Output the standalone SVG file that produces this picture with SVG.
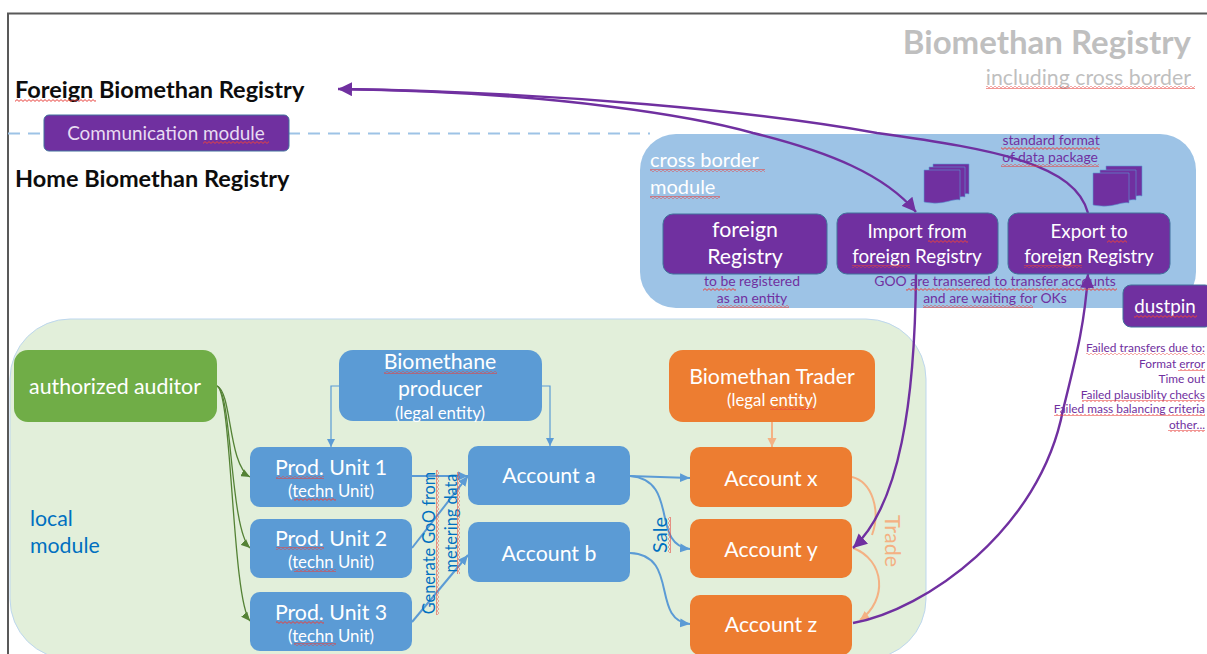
<svg xmlns="http://www.w3.org/2000/svg" width="1207" height="654" viewBox="0 0 1207 654">
<style>
text{font-family:Lato,"Open Sans","Liberation Sans",sans-serif}
.c{text-anchor:middle}
.w{fill:#fff}
.m{font-size:21.3px}
.s{font-size:16.8px}
.r{font-size:18.8px}
.p{fill:#7030a0;font-size:13.9px}
.f{fill:#7030a0;font-size:11.9px;text-anchor:end}
.blk{fill:#0d0d0d;font-size:23.5px;font-weight:700}
.blue{fill:#5b9bd5}
.or{fill:#ed7d31}
.pu{fill:#7030a0;stroke:#41719c;stroke-width:1}
.lk{fill:#0070c0}
.sq{fill:url(#wave)}
.sv{fill:url(#wavev)}
.cb{fill:none;stroke:#5b9bd5;stroke-width:2}
.cb1{fill:none;stroke:#5b9bd5;stroke-width:1.2}
.cg{fill:none;stroke:#548235;stroke-width:1.3}
.co{fill:none;stroke:#f4b183;stroke-width:2}
.cp{fill:none;stroke:#7030a0;stroke-width:2.4}
</style>
<defs>
<pattern id="wave" width="4" height="3" patternUnits="userSpaceOnUse"><path d="M0 1.5 L1 .6 L3 2.4 L4 1.5" fill="none" stroke="#e8413c" stroke-width="1"/></pattern>
<pattern id="wavev" width="3" height="4" patternUnits="userSpaceOnUse"><path d="M1.5 0 L.6 1 L2.4 3 L1.5 4" fill="none" stroke="#e8413c" stroke-width="1"/></pattern>
<marker id="ab" markerUnits="userSpaceOnUse" markerWidth="11" markerHeight="10" refX="10" refY="5" orient="auto"><path d="M0 0.5L10 5L0 9.500z" fill="#5b9bd5"/></marker>
<marker id="ab1" markerUnits="userSpaceOnUse" markerWidth="9" markerHeight="8" refX="8" refY="4" orient="auto"><path d="M0 0L8 4L0 8z" fill="#5b9bd5"/></marker>
<marker id="ag" markerUnits="userSpaceOnUse" markerWidth="10" markerHeight="8" refX="9" refY="4" orient="auto"><path d="M0 0L9 4L0 8z" fill="#548235"/></marker>
<marker id="ao" markerUnits="userSpaceOnUse" markerWidth="10" markerHeight="10" refX="9" refY="5" orient="auto"><path d="M0 .5L9 5L0 9.500z" fill="#f4b183"/></marker>
<marker id="ap" markerUnits="userSpaceOnUse" markerWidth="16" markerHeight="14" refX="14" refY="7" orient="auto"><path d="M0 0L14 7L0 14z" fill="#7030a0"/></marker>
<path id="doc" d="M0 0H36V30C28 28 20 36 0 32Z"/>
</defs>
<rect width="1207" height="654" fill="#fff"/>
<path d="M8 654V13.500H1207" fill="none" stroke="#595959" stroke-width="2"/>

<g id="titles">
<text x="1191" y="54" text-anchor="end" font-size="33" font-weight="700" fill="#bfbfbf">Biomethan Registry</text>
<text x="1191" y="85" text-anchor="end" font-size="21.300" fill="#bfbfbf">including cross border</text>
<rect class="sq" x="986" y="86" width="209" height="3"/>
<text class="blk" x="15" y="98">Foreign Biomethan Registry</text>
<rect class="sq" x="15" y="99" width="81" height="3"/>
<text class="blk" x="15" y="187">Home Biomethan Registry</text>
</g>
<path d="M8 133.500H650" fill="none" stroke="#9dc3e6" stroke-width="2" stroke-dasharray="12 8"/>

<g id="cross-border-module">
<rect x="640" y="134" width="556" height="174" rx="36" fill="#9dc3e6"/>
<text class="w" x="650" y="167" font-size="20">cross border</text>
<text class="w" x="650" y="194" font-size="20">module</text>
<rect class="sq" x="650" y="169" width="115" height="3"/>
<rect class="sq" x="650" y="196" width="70" height="3"/>
</g>
<g id="local-module">
<rect x="10" y="319" width="916" height="340" rx="60" fill="#e2efda" stroke="#bdd7ee"/>
<text class="lk m" x="30" y="526">local</text>
<text class="lk m" x="30" y="553">module</text>
</g>

<g id="connectors">
<path class="cg" d="M217 386C232 392 228 465 250 477" marker-end="url(#ag)"/>
<path class="cg" d="M217 386C232 392 230 530 250 548" marker-end="url(#ag)"/>
<path class="cg" d="M217 386C232 392 232 600 250 621" marker-end="url(#ag)"/>
<path class="cb1" d="M339 386H331V447" marker-end="url(#ab1)"/>
<path class="cb1" d="M542 386H550V446" marker-end="url(#ab1)"/>
<path class="cb" d="M412 476H468" marker-end="url(#ab)"/>
<path class="cb" d="M412 548L468 476" marker-end="url(#ab)"/>
<path class="cb" d="M412 622L468 555" marker-end="url(#ab)"/>
<path class="cb" d="M630 476L690 478" marker-end="url(#ab)"/>
<path class="cb" d="M630 476C680 480 650 545 690 549" marker-end="url(#ab)"/>
<path class="cb" d="M630 553C680 555 650 620 690 624" marker-end="url(#ab)"/>
<path class="co" d="M772 422V447" marker-end="url(#ao)"/>
<path class="co" d="M852 477C872 482 881 510 872 535"/>
<path class="co" d="M853 548C885 560 888 600 860 620" marker-end="url(#ao)"/>
<path class="cp" d="M916 274C915 400 900 505 853 548" marker-end="url(#ap)"/>
<path class="cp" d="M853 623C925 610 1040 530 1063 410C1078 350 1085 320 1088 274" marker-end="url(#ap)"/>
<path class="cp" d="M340 89C560 92 700 118 753 133C830 152 885 175 916 212" marker-end="url(#ap)"/>
<path class="cp" d="M1088 213C1075 165 1000 150 877 133C760 112 560 92 338 89" marker-end="url(#ap)"/>
</g>

<g id="communication-module">
<rect class="pu" x="44" y="115" width="245" height="36" rx="5"/>
<text class="c" x="166" y="140" font-size="18.900" fill="#e8dcf2">Communication module</text>
<rect class="sq" x="203" y="141" width="66" height="3"/>
</g>
<g id="foreign-registry">
<rect class="pu" x="663" y="214" width="164" height="60" rx="10"/>
<text class="c w m" x="745" y="237">foreign</text>
<text class="c w m" x="745" y="264">Registry</text>
</g>
<g id="import">
<rect class="pu" x="837" y="213" width="161" height="61" rx="10"/>
<text class="c w r" x="917" y="238">Import from</text>
<text class="c w r" x="917" y="263">foreign Registry</text>
<rect class="sq" x="928" y="240" width="40" height="3"/>
<rect class="sq" x="852" y="265" width="58" height="3"/>
</g>
<g id="export">
<rect class="pu" x="1008" y="213" width="162" height="61" rx="10"/>
<text class="c w r" x="1089" y="238">Export to</text>
<text class="c w r" x="1089" y="263">foreign Registry</text>
<rect class="sq" x="1107" y="240" width="20" height="3"/>
<rect class="sq" x="1024" y="265" width="58" height="3"/>
</g>
<g id="dustpin">
<rect class="pu" x="1123" y="285" width="90" height="42" rx="8"/>
<text class="c w r" x="1165" y="313">dustpin</text>
<rect class="sq" x="1134" y="315" width="63" height="3"/>
</g>
<g id="doc-import" fill="#7030a0" stroke="#5b9bd5" stroke-width=".6">
<use href="#doc" x="933" y="164"/><use href="#doc" x="929" y="167"/><use href="#doc" x="924" y="170"/>
</g>
<g id="doc-export" fill="#7030a0" stroke="#5b9bd5" stroke-width=".6">
<use href="#doc" x="1106" y="166"/><use href="#doc" x="1100" y="170"/><use href="#doc" x="1093" y="173"/>
</g>

<g id="notes">
<text class="p c" x="1051" y="145">standard format</text>
<text class="p c" x="1050" y="162">of data package</text>
<rect class="sq" x="1001" y="147" width="99" height="3"/>
<rect class="sq" x="1001" y="164" width="98" height="3"/>
<text class="p c" x="752" y="286">to be registered</text>
<text class="p c" x="752" y="303">as an entity</text>
<rect class="sq" x="703" y="288" width="33" height="3"/>
<rect class="sq" x="717" y="305" width="72" height="3"/>
<text class="p c" x="995" y="286">GOO are transered to transfer accounts</text>
<text class="p c" x="995" y="303">and are waiting for OKs</text>
<rect class="sq" x="906" y="288" width="211" height="3"/>
<rect class="sq" x="923" y="305" width="110" height="3"/>
<text class="f" x="1205" y="352">Failed transfers due to:</text>
<text class="f" x="1205" y="368">Format error</text>
<text class="f" x="1205" y="383">Time out</text>
<text class="f" x="1205" y="399">Failed plausiblity checks</text>
<text class="f" x="1205" y="413">Failed mass balancing criteria</text>
<text class="f" x="1205" y="429">other...</text>
<rect class="sq" x="1086" y="353" width="119" height="2"/>
<rect class="sq" x="1178" y="369" width="27" height="2"/>
<rect class="sq" x="1082" y="400" width="123" height="2"/>
<rect class="sq" x="1054" y="414" width="151" height="2"/>
<rect class="sq" x="1168" y="430" width="37" height="2"/>
</g>

<g id="authorized-auditor">
<rect x="14" y="350" width="203" height="72" rx="14" fill="#70ad47"/>
<text class="c w m" x="115" y="394">authorized auditor</text>
</g>
<g id="biomethane-producer">
<rect class="blue" x="339" y="350" width="203" height="71" rx="14"/>
<text class="c w m" x="440" y="369">Biomethane</text>
<text class="c w m" x="440" y="396">producer</text>
<text class="c w s" x="440" y="419">(legal entity)</text>
<rect class="sq" x="384" y="371" width="113" height="3"/>
</g>
<g id="prod-unit-1">
<rect class="blue" x="250" y="447" width="162" height="60" rx="10"/>
<text class="c w m" x="331" y="475">Prod. Unit 1</text>
<text class="c w s" x="331" y="497">(techn Unit)</text>
<rect class="sq" x="276" y="476" width="48" height="3"/>
<rect class="sq" x="294" y="498" width="42" height="3"/>
</g>
<g id="prod-unit-2">
<rect class="blue" x="250" y="519" width="162" height="59" rx="10"/>
<text class="c w m" x="331" y="546">Prod. Unit 2</text>
<text class="c w s" x="331" y="568">(techn Unit)</text>
<rect class="sq" x="276" y="547" width="48" height="3"/>
<rect class="sq" x="294" y="569" width="42" height="3"/>
</g>
<g id="prod-unit-3">
<rect class="blue" x="250" y="592" width="162" height="59" rx="10"/>
<text class="c w m" x="331" y="620">Prod. Unit 3</text>
<text class="c w s" x="331" y="642">(techn Unit)</text>
<rect class="sq" x="276" y="621" width="48" height="3"/>
<rect class="sq" x="294" y="643" width="42" height="3"/>
</g>
<g id="account-a">
<rect class="blue" x="468" y="446" width="162" height="59" rx="10"/>
<text class="c w m" x="549" y="483">Account a</text>
</g>
<g id="account-b">
<rect class="blue" x="468" y="522" width="162" height="60" rx="10"/>
<text class="c w m" x="549" y="561">Account b</text>
</g>
<g id="biomethan-trader">
<rect class="or" x="669" y="350" width="206" height="72" rx="14"/>
<text class="c w m" x="772" y="384">Biomethan Trader</text>
<text class="c w s" x="772" y="406">(legal entity)</text>
<rect class="sq" x="770" y="407" width="44" height="3"/>
</g>
<g id="account-x">
<rect class="or" x="690" y="447" width="162" height="60" rx="10"/>
<text class="c w m" x="771" y="486">Account x</text>
</g>
<g id="account-y">
<rect class="or" x="690" y="519" width="162" height="59" rx="10"/>
<text class="c w m" x="771" y="557">Account y</text>
</g>
<g id="account-z">
<rect class="or" x="690" y="595" width="162" height="60" rx="10"/>
<text class="c w m" x="771" y="632">Account z</text>
</g>

<g id="rotated-labels">
<text class="lk c" transform="translate(435 543) rotate(-90)" font-size="16.300">Generate GoO from</text>
<text class="lk c" transform="translate(457 523) rotate(-90)" font-size="16.300">metering data</text>
<rect class="sv" x="436" y="470" width="3" height="145"/>
<rect class="sv" x="457" y="472" width="3" height="102"/>
<text class="lk c" transform="translate(667 535) rotate(-90)" font-size="20">Sale</text>
<rect class="sv" x="668" y="517" width="3" height="36"/>
<text class="c" fill="#f4b183" transform="translate(885 541) rotate(90)" font-size="21.500">Trade</text>
</g>
</svg>
